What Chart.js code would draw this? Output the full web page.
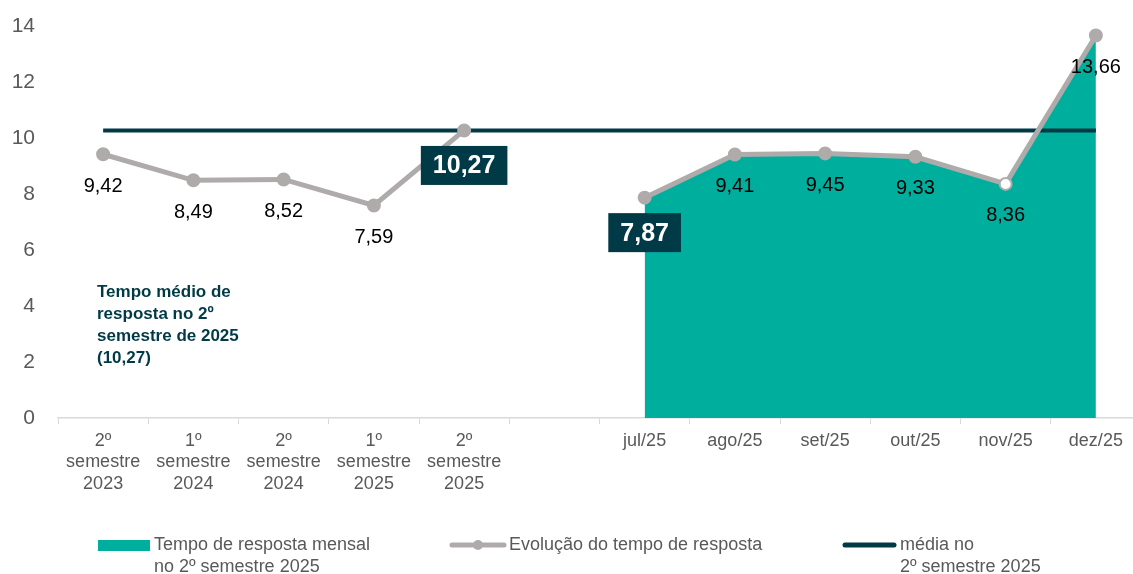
<!DOCTYPE html>
<html>
<head>
    <meta charset="utf-8" />
    <script src="https://cdn.jsdelivr.net/npm/chart.js"></script>
    <style>
        html, body { margin: 0; padding: 0; background: #fff; overflow: hidden; }
        #box { width: 1141px; height: 574px; }
    </style>
    <title></title>
</head>
<body>
    <div id="box">
        <canvas id="c1"></canvas>
    </div>
    <script>
        "use strict";

        // categories (index 5 is the empty gap between semesters and months)
        let labels = [
            ["2º", "semestre", "2023"],
            ["1º", "semestre", "2024"],
            ["2º", "semestre", "2024"],
            ["1º", "semestre", "2025"],
            ["2º", "semestre", "2025"],
            "",
            "jul/25", "ago/25", "set/25", "out/25", "nov/25", "dez/25"
        ];
        let evolucao = [9.42, 8.49, 8.52, 7.59, 10.27, null, 7.87, 9.41, 9.45, 9.33, 8.36, 13.66];
        let mensal = [null, null, null, null, null, null, 7.87, 9.41, 9.45, 9.33, 8.36, 13.66];
        let media = [10.27, 10.27, 10.27, 10.27, 10.27, 10.27, 10.27, 10.27, 10.27, 10.27, 10.27, 10.27];
        let destaque = [4, 6];     // labels drawn in a dark box
        let pontoBranco = 10;      // hollow marker (nov/25)

        let FONT = "'Liberation Sans', Arial, sans-serif";
        let TEAL = "#00ae9d";
        let GREY = "#afabab";
        let DARK = "#003a46";

        function fmt(v) {
            return v.toFixed(2).replace(".", ",");
        }

        let labelPlugin = {
            id: "labelPlugin",
            afterDatasetsDraw(chart) {
                let ctx = chart.ctx;
                let meta = chart.getDatasetMeta(0);
                ctx.save();
                ctx.textAlign = "center";
                ctx.textBaseline = "middle";
                meta.data.forEach((p, i) => {
                    let v = evolucao[i];
                    if (v == null) return;
                    let t = fmt(v);
                    if (destaque.includes(i)) {
                        ctx.font = "bold 25px " + FONT;
                        let w = ctx.measureText(t).width + 24;
                        let cy = p.y + 35;
                        ctx.fillStyle = DARK;
                        ctx.fillRect(p.x - w / 2, cy - 19.5, w, 39);
                        ctx.fillStyle = "#fff";
                        ctx.fillText(t, p.x, cy + 1);
                    } else {
                        ctx.font = "20px " + FONT;
                        ctx.fillStyle = "#000";
                        ctx.fillText(t, p.x, p.y + 32);
                    }
                });
                ctx.restore();
            },
            afterDraw(chart) {
                let ctx = chart.ctx;
                ctx.save();
                ctx.textAlign = "left";
                ctx.textBaseline = "middle";

                // note at left
                ctx.font = "bold 17px " + FONT;
                ctx.fillStyle = DARK;
                let nota = ["Tempo médio de", "resposta no 2º", "semestre de 2025", "(10,27)"];
                nota.forEach((s, i) => ctx.fillText(s, 97, 292 + i * 22));

                // legend
                ctx.font = "18px " + FONT;
                ctx.fillStyle = TEAL;
                ctx.fillRect(98, 540, 52, 11);
                ctx.fillStyle = "#595959";
                ctx.fillText("Tempo de resposta mensal", 154, 545);
                ctx.fillText("no 2º semestre 2025", 154, 567);

                ctx.strokeStyle = GREY;
                ctx.lineWidth = 5;
                ctx.lineCap = "round";
                ctx.beginPath();
                ctx.moveTo(452, 545);
                ctx.lineTo(504, 545);
                ctx.stroke();
                ctx.fillStyle = GREY;
                ctx.beginPath();
                ctx.arc(478, 545, 5, 0, Math.PI * 2);
                ctx.fill();
                ctx.fillStyle = "#595959";
                ctx.fillText("Evolução do tempo de resposta", 509, 545);

                ctx.strokeStyle = DARK;
                ctx.beginPath();
                ctx.moveTo(845, 545);
                ctx.lineTo(894, 545);
                ctx.stroke();
                ctx.fillText("média no", 900, 545);
                ctx.fillText("2º semestre 2025", 900, 567);
                ctx.restore();
            }
        };

        let params = {
            type: "line",
            data: {
                labels: labels,
                datasets: [
                    {
                        label: "Evolução do tempo de resposta",
                        data: evolucao,
                        borderColor: GREY,
                        borderWidth: 5,
                        pointRadius: 6,
                        pointHoverRadius: 6,
                        pointBackgroundColor: evolucao.map((v, i) => i == pontoBranco ? "#fff" : GREY),
                        pointBorderColor: GREY,
                        pointBorderWidth: 2,
                        spanGaps: false,
                        fill: false,
                        tension: 0
                    },
                    {
                        label: "média no 2º semestre 2025",
                        data: media,
                        borderColor: DARK,
                        borderWidth: 4,
                        pointRadius: 0,
                        fill: false
                    },
                    {
                        label: "Tempo de resposta mensal no 2º semestre 2025",
                        data: mensal,
                        borderWidth: 0,
                        borderColor: TEAL,
                        backgroundColor: TEAL,
                        pointRadius: 0,
                        fill: "origin",
                        tension: 0
                    }
                ]
            },
            options: {
                responsive: true,
                maintainAspectRatio: false,
                animation: false,
                events: [],
                layout: { autoPadding: false, padding: { top: 26, right: 0, left: 0, bottom: 0 } },
                plugins: {
                    legend: { display: false },
                    tooltip: { enabled: false }
                },
                scales: {
                    x: {
                        offset: true,
                        afterFit: (s) => { s.height = 156; },
                        grid: {
                            display: true,
                            drawOnChartArea: false,
                            drawTicks: true,
                            tickLength: 6,
                            color: "#d9d9d9",
                            offset: true
                        },
                        border: { display: true, color: "#d9d9d9", width: 1.5 },
                        ticks: {
                            color: "#595959",
                            font: { family: FONT, size: 18 },
                            padding: 6,
                            maxRotation: 0,
                            autoSkip: false
                        }
                    },
                    y: {
                        min: 0,
                        max: 14,
                        afterFit: (s) => { s.width = 58; s.paddingTop = 0; s.paddingBottom = 0; },
                        grid: { display: false, drawTicks: true, tickLength: 23 },
                        border: { display: false },
                        ticks: {
                            stepSize: 2,
                            color: "#595959",
                            font: { family: FONT, size: 21 },
                            padding: 0
                        }
                    }
                }
            },
            plugins: [labelPlugin]
        };

        let c1 = document.querySelector("#c1");
        let chart1 = new Chart(c1, params);
    </script>
</body>
</html>
